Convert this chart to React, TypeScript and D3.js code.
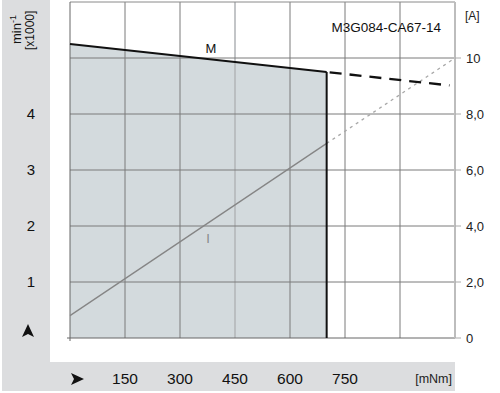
import React, { useRef, useEffect } from "react";
import * as d3 from "d3";

// torque [mNm] -> speed [min-1]
const torqueM = [0, 700];
const speedM = [5250, 4750];
const torqueMExt = [700, 1035];
const speedMExt = [4750, 4510];
// torque [mNm] -> current [A]
const torqueI = [0, 700];
const currentI = [0.8, 6.95];
const torqueIExt = [700, 1050];
const currentIExt = [6.95, 10];

const xTicks = [150, 300, 450, 600, 750];
const xGrid = [150, 300, 450, 600, 750, 900];
const speedTicks = [1000, 2000, 3000, 4000];
const speedGrid = [1000, 2000, 3000, 4000, 5000];
const currentTicks = [0, 2, 4, 6, 8, 10];
const currentLabels = ["0", "2,0", "4,0", "6,0", "8,0", "10"];
const title = "M3G084-CA67-14";

export default function App() {
  const svgRef = useRef<SVGSVGElement>(null);

  useEffect(() => {
    const svg = d3.select(svgRef.current);
    svg.selectAll("*").remove();
    const W = 500, H = 393;
    const font = "'Liberation Sans', Arial, sans-serif";

    const x = d3.scaleLinear().domain([0, 1050]).range([70, 455]);
    const yS = d3.scaleLinear().domain([0, 6000]).range([338, 2]);
    const yI = d3.scaleLinear().domain([0, 12]).range([338, 2]);

    svg.append("rect").attr("width", W).attr("height", H).attr("fill", "#fff");
    // grey L-shaped frame
    svg.append("rect").attr("x", 2).attr("y", 0).attr("width", 48).attr("height", 391).attr("fill", "#dcdddf");
    svg.append("rect").attr("x", 2).attr("y", 362).attr("width", 453).attr("height", 29).attr("fill", "#dcdddf");

    // shaded operating area
    const area = d3.area<number>()
      .x((_, i) => x(torqueM[i]))
      .y0(yS(0))
      .y1((d) => yS(d));
    svg.append("path").datum(speedM).attr("d", area).attr("fill", "#d3dadd");

    // grid
    const g = svg.append("g");
    xGrid.forEach((t) => {
      g.append("line")
        .attr("x1", x(t)).attr("x2", x(t)).attr("y1", yS(6000)).attr("y2", yS(0))
        .attr("stroke", t === 450 ? "#b4b7ba" : "#7a7a7a")
        .attr("stroke-width", t === 450 ? 1.6 : 1);
    });
    speedGrid.forEach((s) => {
      g.append("line")
        .attr("x1", x(0)).attr("x2", x(1050)).attr("y1", yS(s)).attr("y2", yS(s))
        .attr("stroke", "#7a7a7a").attr("stroke-width", 1);
    });
    // top border
    g.append("line").attr("x1", x(0)).attr("x2", x(1050)).attr("y1", yS(6000)).attr("y2", yS(6000))
      .attr("stroke", "#8a8a8a").attr("stroke-width", 1);
    // left + bottom axes
    g.append("line").attr("x1", x(0)).attr("x2", x(0)).attr("y1", yS(6000)).attr("y2", yS(0) + 3)
      .attr("stroke", "#666").attr("stroke-width", 1);
    g.append("line").attr("x1", x(0) - 3).attr("x2", x(1050)).attr("y1", yS(0)).attr("y2", yS(0))
      .attr("stroke", "#666").attr("stroke-width", 1);
    // right axis
    g.append("line").attr("x1", x(1050)).attr("x2", x(1050)).attr("y1", yS(6000)).attr("y2", yS(0))
      .attr("stroke", "#bdbdbd").attr("stroke-width", 2);
    currentTicks.forEach((c) => {
      g.append("line").attr("x1", x(1050)).attr("x2", x(1050) + 6).attr("y1", yI(c)).attr("y2", yI(c))
        .attr("stroke", "#aaa").attr("stroke-width", 1);
    });

    // current line
    const lineI = (xs: number[]) => d3.line<number>().x((_, i) => x(xs[i])).y((d) => yI(d));
    svg.append("path").datum(currentI).attr("d", lineI(torqueI)).attr("fill", "none")
      .attr("stroke", "#858585").attr("stroke-width", 1.3);
    svg.append("path").datum(currentIExt).attr("d", lineI(torqueIExt)).attr("fill", "none")
      .attr("stroke", "#a8a8a8").attr("stroke-width", 1.3).attr("stroke-dasharray", "3,4");

    // speed line
    const lineS = (xs: number[]) => d3.line<number>().x((_, i) => x(xs[i])).y((d) => yS(d));
    svg.append("path").datum(speedM).attr("d", lineS(torqueM)).attr("fill", "none")
      .attr("stroke", "#111").attr("stroke-width", 2);
    svg.append("path").datum(speedMExt).attr("d", lineS(torqueMExt)).attr("fill", "none")
      .attr("stroke", "#111").attr("stroke-width", 2.3).attr("stroke-dasharray", "12,8")
      .attr("stroke-dashoffset", -3);
    svg.append("line")
      .attr("x1", x(torqueM[1])).attr("x2", x(torqueM[1]))
      .attr("y1", yS(speedM[1])).attr("y2", yS(0))
      .attr("stroke", "#111").attr("stroke-width", 2);

    const txt = (s: string, px: number, py: number, size: number, anchor = "middle", fill = "#111") =>
      svg.append("text").attr("x", px).attr("y", py).attr("font-family", font).attr("font-size", size)
        .attr("text-anchor", anchor).attr("fill", fill).text(s);

    // labels
    txt("M", 211, 53, 13);
    txt("I", 208, 243, 13, "middle", "#888");
    txt(title, 441, 32, 13.5, "end");

    // arrowhead pointing right, centred at origin
    const arrow = "M-6,-6 L7,0 L-6,6 L-3,0 Z";
    svg.append("path").attr("d", arrow).attr("fill", "#111")
      .attr("transform", "translate(77,379)");
    svg.append("path").attr("d", arrow).attr("fill", "#111")
      .attr("transform", "translate(28,331) rotate(-90)");

    // bottom ticks
    xTicks.forEach((t) => txt(String(t), x(t), 384, 15.5));
    txt("[mNm]", 452, 383, 12.5, "end", "#222");

    // left ticks
    speedTicks.forEach((s) => txt(String(s / 1000), 31, yS(s) + 5, 15));
    const unit = svg.append("text").attr("transform", "translate(21,44) rotate(-90)")
      .attr("font-family", font).attr("font-size", 13).attr("fill", "#111");
    unit.append("tspan").text("min");
    unit.append("tspan").attr("font-size", 9).attr("dy", -5).text("-1");
    svg.append("text").attr("transform", "translate(34,50) rotate(-90)")
      .attr("font-family", font).attr("font-size", 12).attr("fill", "#111").text("[x1000]");

    // right ticks
    currentTicks.forEach((c, i) => txt(currentLabels[i], 466, yI(c) + 5, 13, "start", "#222"));
    txt("[A]", 465, 20, 12, "start", "#222");
  }, []);

  return (
    <svg ref={svgRef} width={500} height={393}
      style={{ position: "absolute", left: 0, top: 0, display: "block" }} />
  );
}
